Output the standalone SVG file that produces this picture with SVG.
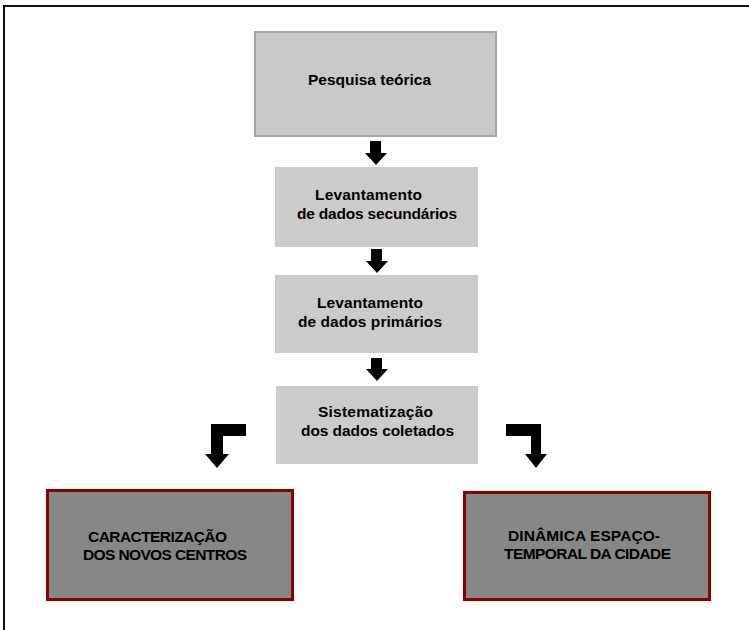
<svg xmlns="http://www.w3.org/2000/svg" width="749" height="630" viewBox="0 0 749 630">
<defs>
<style>
.t{font-family:"Liberation Sans","Arial",sans-serif;font-weight:bold;font-size:15.5px;fill:#000}
.lb{fill:#cbcbcb}
.db{fill:#878787;stroke:#8b0000;stroke-width:3}
.ar{fill:#000}
</style>
</defs>
<rect width="749" height="630" fill="#fff"/>
<path d="M4 630 V6 H749" fill="none" stroke="#111" stroke-width="2"/>
<g id="n1">
<rect x="255" y="32" width="241" height="104" fill="#c9c9c9" stroke="#a6a6a6" stroke-width="2"/>
<text class="t" x="308" y="85" textLength="123">Pesquisa teórica</text>
</g>
<g id="n2">
<rect class="lb" x="275" y="167" width="203" height="80"/>
<text class="t" x="315" y="200" textLength="107">Levantamento</text>
<text class="t" x="297" y="219" textLength="160">de dados secundários</text>
</g>
<g id="n3">
<rect class="lb" x="275" y="275" width="203" height="78"/>
<text class="t" x="317" y="308" textLength="106">Levantamento</text>
<text class="t" x="298" y="327" textLength="144">de dados primários</text>
</g>
<g id="n4">
<rect class="lb" x="276" y="386" width="202" height="78"/>
<text class="t" x="318" y="417" textLength="115">Sistematização</text>
<text class="t" x="301" y="436" textLength="153">dos dados coletados</text>
</g>
<g id="n5">
<rect class="db" x="47.5" y="490.5" width="245" height="109"/>
<text class="t" x="88" y="542" textLength="139">CARACTERIZAÇÃO</text>
<text class="t" x="83" y="560" textLength="164">DOS NOVOS CENTROS</text>
</g>
<g id="n6">
<rect class="db" x="464.5" y="492.5" width="245" height="107"/>
<text class="t" x="508" y="541" textLength="152">DINÂMICA ESPAÇO-</text>
<text class="t" x="504" y="559" textLength="167">TEMPORAL DA CIDADE</text>
</g>
<g id="connectors">
<path class="ar" d="M370 141 H381 V153 H387 L376 165 L365 153 H370 Z"/>
<path class="ar" d="M371 249 H382 V261 H388 L377 273 L366 261 H371 Z"/>
<path class="ar" d="M371 358 H382 V369 H388 L377 381 L366 369 H371 Z"/>
<path class="ar" d="M246 424 V436 H223 V454 H229 L217 468 L205 454 H211 V424 Z"/>
<path class="ar" d="M506 424 H541 V454 H547 L536 468 L525 454 H531 V436 H506 Z"/>
</g>
</svg>
